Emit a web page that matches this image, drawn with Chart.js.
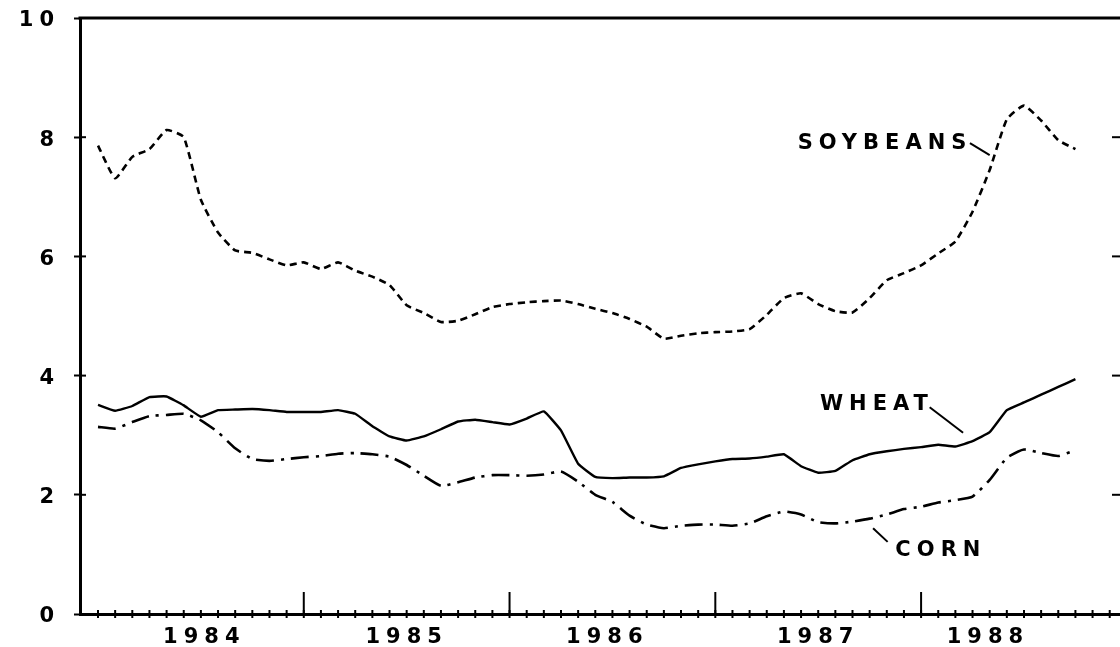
<!DOCTYPE html>
<html><head><meta charset="utf-8">
<script src="https://cdn.jsdelivr.net/npm/chart.js@4.4.1/dist/chart.umd.min.js"></script>
<style>html,body{margin:0;padding:0;background:#fff}#wrap{width:1120px;height:647px;position:relative;overflow:hidden}</style>
</head><body><div id="wrap"><canvas id="c" width="1120" height="647"></canvas></div>
<script>
// Monthly prices, month index 0 .. 57
const soybeans = [7.86,7.31,7.67,7.80,8.12,8.00,6.95,6.40,6.10,6.06,5.95,5.85,5.90,5.79,5.90,5.76,5.66,5.52,5.18,5.05,4.90,4.92,5.03,5.15,5.20,5.23,5.25,5.26,5.20,5.12,5.05,4.95,4.82,4.62,4.67,4.71,4.73,4.74,4.78,5.02,5.30,5.38,5.20,5.08,5.06,5.30,5.60,5.72,5.85,6.05,6.25,6.75,7.45,8.30,8.53,8.28,7.95,7.80];
const wheat = [3.51,3.41,3.49,3.64,3.65,3.50,3.31,3.42,3.43,3.44,3.42,3.39,3.39,3.39,3.42,3.36,3.15,2.98,2.91,2.98,3.10,3.23,3.26,3.22,3.18,3.28,3.40,3.08,2.52,2.30,2.28,2.29,2.29,2.31,2.45,2.51,2.56,2.60,2.61,2.64,2.68,2.48,2.37,2.40,2.58,2.68,2.73,2.77,2.80,2.84,2.81,2.90,3.05,3.42,3.55,3.68,3.81,3.94];
const corn = [3.14,3.11,3.22,3.32,3.34,3.36,3.25,3.05,2.78,2.60,2.57,2.60,2.63,2.65,2.69,2.70,2.68,2.64,2.50,2.32,2.15,2.21,2.29,2.33,2.33,2.32,2.34,2.39,2.22,2.00,1.88,1.65,1.50,1.44,1.48,1.50,1.50,1.48,1.52,1.64,1.72,1.67,1.54,1.52,1.55,1.60,1.67,1.76,1.80,1.87,1.91,1.97,2.25,2.62,2.76,2.70,2.65,2.75];
const yearLabels = ['1984','1985','1986','1987','1988'];
const yearLabelAt = [6.2, 18.0, 29.7, 42.0, 51.9];
const yTickValues = [0,2,4,6,8,10];
const majorTickAt = [12,24,36,48];

const annotations = [
  {text:'SOYBEANS', at:[40.8, 7.90], leader:[[50.85,7.90],[52.0,7.70]]},
  {text:'WHEAT', at:[42.1, 3.52], leader:[[48.5,3.47],[50.45,3.04]]},
  {text:'CORN', at:[46.5, 1.07], leader:[[45.2,1.44],[46.05,1.21]]}
];

const toXY = arr => arr.map((v,i)=>({x:i,y:v}));

const framePlugin = {
  id:'frame',
  beforeDraw(chart){ chart.ctx.letterSpacing = '6px'; },
  afterDraw(chart){
    const {ctx, chartArea:a, scales:{x,y}} = chart;
    ctx.save();
    ctx.strokeStyle = '#000';
    ctx.lineCap = 'butt';
    ctx.lineWidth = 3;
    ctx.beginPath(); ctx.moveTo(a.left-1.5, a.top); ctx.lineTo(a.right, a.top); ctx.stroke();
    ctx.lineWidth = 2;
    for (let m = 0; m <= 59; m++) {
      const px = x.getPixelForValue(m);
      ctx.beginPath(); ctx.moveTo(px, a.bottom-4); ctx.lineTo(px, a.bottom+4); ctx.stroke();
    }
    majorTickAt.forEach(m => {
      const px = x.getPixelForValue(m);
      ctx.beginPath(); ctx.moveTo(px, a.bottom); ctx.lineTo(px, a.bottom-22); ctx.stroke();
    });
    yTickValues.forEach(v => {
      const py = y.getPixelForValue(v);
      ctx.beginPath(); ctx.moveTo(a.left, py); ctx.lineTo(a.left+6, py); ctx.stroke();
      if (v > 0 && v < 10) { ctx.beginPath(); ctx.moveTo(a.right-8, py); ctx.lineTo(a.right, py); ctx.stroke(); }
    });
    ctx.font = 'bold 21px "DejaVu Sans"';
    ctx.letterSpacing = '6px';
    ctx.textBaseline = 'middle';
    ctx.textAlign = 'left';
    ctx.fillStyle = '#000';
    annotations.forEach(an => {
      ctx.fillText(an.text, x.getPixelForValue(an.at[0]), y.getPixelForValue(an.at[1]));
      ctx.beginPath();
      ctx.moveTo(x.getPixelForValue(an.leader[0][0]), y.getPixelForValue(an.leader[0][1]));
      ctx.lineTo(x.getPixelForValue(an.leader[1][0]), y.getPixelForValue(an.leader[1][1]));
      ctx.stroke();
    });
    ctx.restore();
  }
};

new Chart(document.getElementById('c'), {
  type:'line',
  data:{
    datasets:[
      {label:'SOYBEANS', data:toXY(soybeans), borderColor:'#000', borderWidth:2.6, borderDash:[7,5], pointRadius:0, tension:0.15, fill:false},
      {label:'WHEAT', data:toXY(wheat), borderColor:'#000', borderWidth:2.4, pointRadius:0, tension:0.1, fill:false},
      {label:'CORN', data:toXY(corn), borderColor:'#000', borderWidth:2.6, borderDash:[18,7,3,7], pointRadius:0, tension:0.15, fill:false}
    ]
  },
  options:{
    responsive:false, animation:false, devicePixelRatio:1,
    layout:{padding:{top:18, right:0, left:0, bottom:0}},
    plugins:{legend:{display:false}, tooltip:{enabled:false}},
    scales:{
      x:{
        type:'linear', min:-1.05, max:59.6,
        afterBuildTicks(s){ s.ticks = yearLabelAt.map(v=>({value:v})); },
        afterFit(s){ s.height = 33; s.paddingLeft = 0; s.paddingRight = 0; },
        ticks:{color:'#000', padding:3, maxRotation:0, autoSkip:false,
          font:{family:'DejaVu Sans', size:21, weight:'bold'},
          callback(v, i){ return yearLabels[i]; }},
        grid:{display:false},
        border:{display:true, color:'#000', width:3}
      },
      y:{
        min:0, max:10,
        afterBuildTicks(s){ s.ticks = yTickValues.map(v=>({value:v})); },
        afterFit(s){ s.width = 80; s.paddingTop = 0; s.paddingBottom = 0; },
        ticks:{color:'#000', padding:14, labelOffset:3,
          font:{family:'DejaVu Sans', size:21, weight:'bold'}},
        grid:{display:true, drawOnChartArea:false, tickLength:6, tickWidth:2, tickColor:'#000'},
        border:{display:true, color:'#000', width:3}
      }
    }
  },
  plugins:[framePlugin]
});
</script></body></html>
